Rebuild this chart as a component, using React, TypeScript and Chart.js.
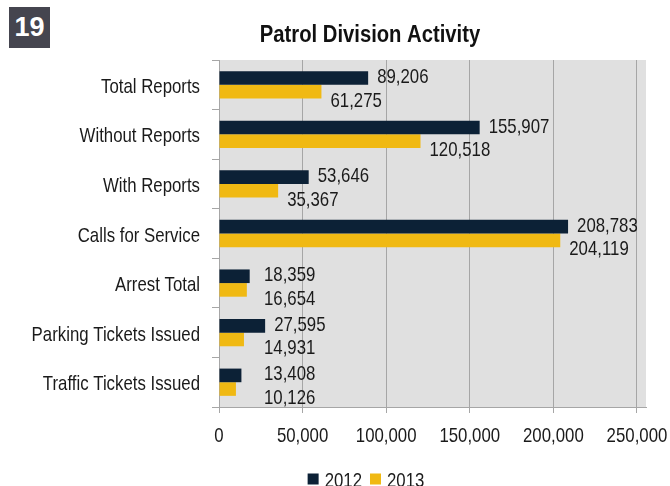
import React, { useEffect, useRef } from "react";
import { Chart, registerables } from "chart.js";

Chart.register(...registerables);

const categories = [
  "Total Reports",
  "Without Reports",
  "With Reports",
  "Calls for Service",
  "Arrest Total",
  "Parking Tickets Issued",
  "Traffic Tickets Issued",
];
const values2012 = [89206, 155907, 53646, 208783, 18359, 27595, 13408];
const values2013 = [61275, 120518, 35367, 204119, 16654, 14931, 10126];
const seriesLabels = ["2012", "2013"];
const seriesColors = ["#0c2136", "#f0b913"];
const xTicks = [0, 50000, 100000, 150000, 200000, 250000];
const titleText = "Patrol Division Activity";
const badgeText = "19";

const FONT = '"Liberation Sans", Arial, sans-serif';
const TEXT = "#1a1a1a";
const NARROW = 0.8;
const fmt = (v: number) => Number(v).toLocaleString("en-US");

function drawNarrow(ctx: any, text: string, x: number, y: number, align: string, scale = NARROW) {
  ctx.save();
  ctx.translate(x, y);
  ctx.scale(scale, 1);
  ctx.textAlign = align;
  ctx.fillText(text, 0, 0);
  ctx.restore();
}

const plotBg = {
  id: "plotBg",
  beforeDraw(chart: any) {
    const { ctx, chartArea: a } = chart;
    ctx.save();
    ctx.fillStyle = "#e0e0e0";
    ctx.fillRect(a.left, a.top, a.right - a.left, a.bottom - a.top);
    ctx.restore();
  },
};

const axisLabels = {
  id: "axisLabels",
  afterDraw(chart: any) {
    const { ctx, scales } = chart;
    ctx.save();
    ctx.font = `21px ${FONT}`;
    ctx.fillStyle = TEXT;
    ctx.textBaseline = "alphabetic";
    const xs = scales.x;
    xs.ticks.forEach((t: any, i: number) => {
      drawNarrow(ctx, fmt(t.value), xs.getPixelForTick(i), 442, "center");
    });
    const ys = scales.y;
    chart.data.labels.forEach((lab: string, i: number) => {
      drawNarrow(ctx, lab, 200, ys.getPixelForTick(i) + 8, "right");
    });
    ctx.restore();
  },
};

const valueLabels = {
  id: "valueLabels",
  afterDatasetsDraw(chart: any) {
    const { ctx, chartArea: a } = chart;
    ctx.save();
    ctx.font = `21px ${FONT}`;
    ctx.fillStyle = TEXT;
    ctx.textBaseline = "alphabetic";
    chart.data.datasets.forEach((ds: any, di: number) => {
      const meta = chart.getDatasetMeta(di);
      meta.data.forEach((el: any, i: number) => {
        const x = Math.max(el.x + 9, a.left + 45);
        const y = el.y + (di === 0 ? 5 : 15);
        drawNarrow(ctx, fmt(ds.data[i]), x, y, "left");
      });
    });
    ctx.restore();
  },
};

const titleAndLegend = {
  id: "titleAndLegend",
  afterDraw(chart: any) {
    const { ctx } = chart;
    ctx.save();
    ctx.font = `bold 23px ${FONT}`;
    ctx.fillStyle = "#111";
    ctx.textBaseline = "alphabetic";
    drawNarrow(ctx, titleText, 370, 42, "center", 0.88);

    // legend
    ctx.font = `21px ${FONT}`;
    ctx.textBaseline = "alphabetic";
    const box = 11;
    const gapBoxText = 6;
    const gapItems = 8;
    const widths = chart.data.datasets.map(
      (d: any) => box + gapBoxText + ctx.measureText(d.label).width * NARROW
    );
    const total = widths.reduce((s: number, w: number) => s + w, 0) + gapItems * (widths.length - 1);
    let x = 366 - total / 2;
    const yc = 479;
    chart.data.datasets.forEach((d: any, i: number) => {
      ctx.fillStyle = d.backgroundColor;
      ctx.fillRect(x, yc - box / 2, box, box);
      ctx.fillStyle = TEXT;
      drawNarrow(ctx, d.label, x + box + gapBoxText, yc + 7.5, "left");
      x += widths[i] + gapItems;
    });
    ctx.restore();
  },
};

export default function App() {
  const ref = useRef<HTMLCanvasElement>(null);

  useEffect(() => {
    if (!ref.current) return;
    const chart = new Chart(ref.current, {
      type: "bar",
      data: {
        labels: categories,
        datasets: [
          {
            label: seriesLabels[0],
            data: values2012,
            backgroundColor: seriesColors[0],
            categoryPercentage: 0.55,
            barPercentage: 1,
          },
          {
            label: seriesLabels[1],
            data: values2013,
            backgroundColor: seriesColors[1],
            categoryPercentage: 0.55,
            barPercentage: 1,
          },
        ],
      },
      options: {
        indexAxis: "y",
        responsive: false,
        animation: false,
        devicePixelRatio: 1,
        layout: { padding: { top: 60, right: 24, left: 0, bottom: 0 } },
        plugins: {
          legend: { display: false },
          tooltip: { enabled: false },
          title: { display: false },
        },
        scales: {
          x: {
            type: "linear",
            min: 0,
            max: 255400,
            afterBuildTicks: (axis: any) => {
              axis.ticks = xTicks.map((v) => ({ value: v }));
            },
            afterFit: (s: any) => {
              s.height = 79;
            },
            ticks: { display: false },
            grid: { color: "#a6a6a6", lineWidth: 1, tickLength: 6, drawTicks: true },
            border: { color: "#a6a6a6" },
          },
          y: {
            type: "category",
            afterFit: (s: any) => {
              s.width = 219;
            },
            ticks: { display: false },
            grid: {
              drawOnChartArea: false,
              offset: true,
              tickLength: 7,
              color: "#a6a6a6",
            },
            border: { color: "#a6a6a6" },
          },
        },
      } as any,
      plugins: [plotBg, valueLabels, axisLabels, titleAndLegend],
    });
    return () => chart.destroy();
  }, []);

  return (
    <div style={{ position: "fixed", left: 0, top: 0, width: 670, height: 486, background: "#fff" }}>
      <canvas ref={ref} width={670} height={486} style={{ display: "block" }} />
      <div
        style={{
          position: "absolute",
          left: 9,
          top: 7,
          width: 41,
          height: 41,
          background: "#45454f",
          color: "#fff",
          fontFamily: '"Liberation Sans", Arial, sans-serif',
          fontWeight: "bold",
          fontSize: 27,
          lineHeight: "41px",
          textAlign: "center",
        }}
      >
        {badgeText}
      </div>
    </div>
  );
}
